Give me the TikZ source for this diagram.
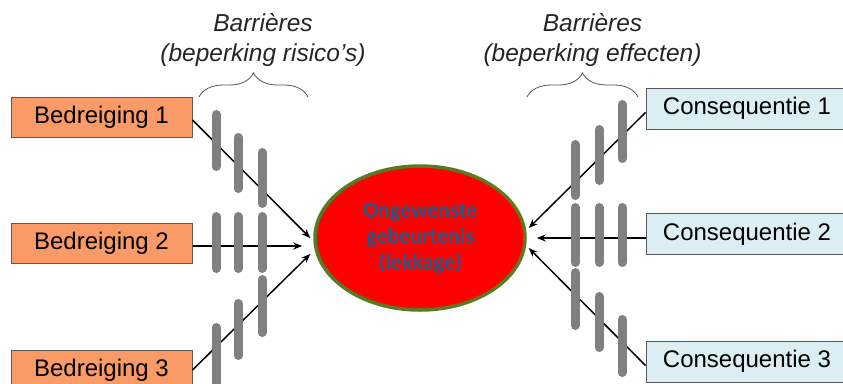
\documentclass[tikz,border=0pt]{standalone}
\usepackage{fontspec}
\setmainfont{Liberation Sans}
\newfontfamily\calibri{Carlito}
\usepackage{xcolor}
\usepackage{tikz}
\usetikzlibrary{arrows.meta, positioning, decorations.pathreplacing, shapes.geometric, calc}
\definecolor{oranje}{HTML}{FA9A66}
\definecolor{lichtblauw}{HTML}{DBEEF3}
\definecolor{rand}{HTML}{5A5A5A}
\definecolor{olijf}{HTML}{5A7A22}
\definecolor{tekstblauw}{HTML}{1F5A8A}
\definecolor{grijs}{HTML}{808080}
\definecolor{accgrijs}{HTML}{555555}
\tikzset{
  every picture/.style={x=1pt, y=-1pt},
  bedreiging/.style={draw=rand, fill=oranje, line width=1pt, inner sep=0pt,
              minimum width=181pt, minimum height=40pt, font=\fontsize{24}{28}\selectfont},
  gevolg/.style={draw=rand, fill=lichtblauw, line width=1pt, inner sep=0pt,
              minimum width=202pt, minimum height=41pt, font=\fontsize{24}{28}\selectfont},
  gebeurtenis/.style={ellipse, draw=olijf, fill=red, line width=3.5pt, inner sep=0pt,
              minimum width=210pt, minimum height=144pt, text=tekstblauw, align=center,
              font=\calibri\bfseries\fontsize{22}{26}\selectfont},
  titel/.style={align=center, inner sep=0pt, text=black!85,
              font=\itshape\fontsize{24.5}{30}\selectfont},
  accolade/.style={decorate, decoration={brace, amplitude=24pt}, accgrijs, line width=0.8pt},
  pijl/.style={-{Stealth[length=9pt, width=7pt]}, line width=1.5pt, black},
  barriere/.style={line width=9pt, line cap=round, grijs},
}
\begin{document}
\begin{tikzpicture}
  \useasboundingbox (0,0) rectangle (843,383);
  % titels en accolades
  \node[titel] (tl) at (263,40.5) {Barrières\\(beperking risico’s)};
  \node[titel] (tr) at (592.5,40.5) {Barrières\\(beperking effecten)};
  \draw[accolade] (199,97) -- (308,97);
  \draw[accolade] (527,97) -- (638,97);
  % bedreigingen, gebeurtenis, gevolgen
  \node[bedreiging] (b1) at (101.5,117) {Bedreiging 1};
  \node[bedreiging] (b2) at (101.5,243) {Bedreiging 2};
  \node[bedreiging] (b3) at (101.5,370) {Bedreiging 3};
  \node[gebeurtenis] (ev) at (420,238) {Ongewenste\\gebeurtenis\\(lekkage)};
  \node[gevolg] (c1) at (747,108.5) {Consequentie 1};
  \node[gevolg] (c2) at (747,234) {Consequentie 2};
  \node[gevolg] (c3) at (747,361.5) {Consequentie 3};
  \coordinate (p1) at ([shift={(-3,0)}]ev.west);
  \coordinate (p2) at ([shift={(-11,8)}]ev.west);
  \coordinate (p3) at ([shift={(-3,16)}]ev.west);
  \coordinate (q1) at ([shift={(2,-10)}]ev.east);
  \coordinate (q2) at ([shift={(10,0)}]ev.east);
  \coordinate (q3) at ([shift={(2,10)}]ev.east);
  \draw[pijl] ([yshift=-3pt]b1.east) -- (p1);
  \draw[pijl] ([yshift=-3pt]b2.east) -- (p2);
  \draw[pijl] (b3.east) -- (p3);
  \draw[pijl] ([yshift=-4pt]c1.west) -- (q1);
  \draw[pijl] ([yshift=-4pt]c2.west) -- (q2);
  \draw[pijl] ([yshift=-4pt]c3.west) -- (q3);
  % barrieres
  \foreach \x/\a/\b in {216/110/171, 216/212/273, 216/323/395,
                        238/133/193, 238/212/273, 238/299/360,
                        262/148/208, 262/212/273, 262/275/337,
                        575/140/200, 575/203/267, 575/268/330,
                        599/125/185, 599/203/267, 599/292/352,
                        622/100/163, 622/203/267, 622/315/377}
    \draw[barriere] (\x,\a+4.5) -- (\x,\b-4.5);
\end{tikzpicture}
\end{document}
